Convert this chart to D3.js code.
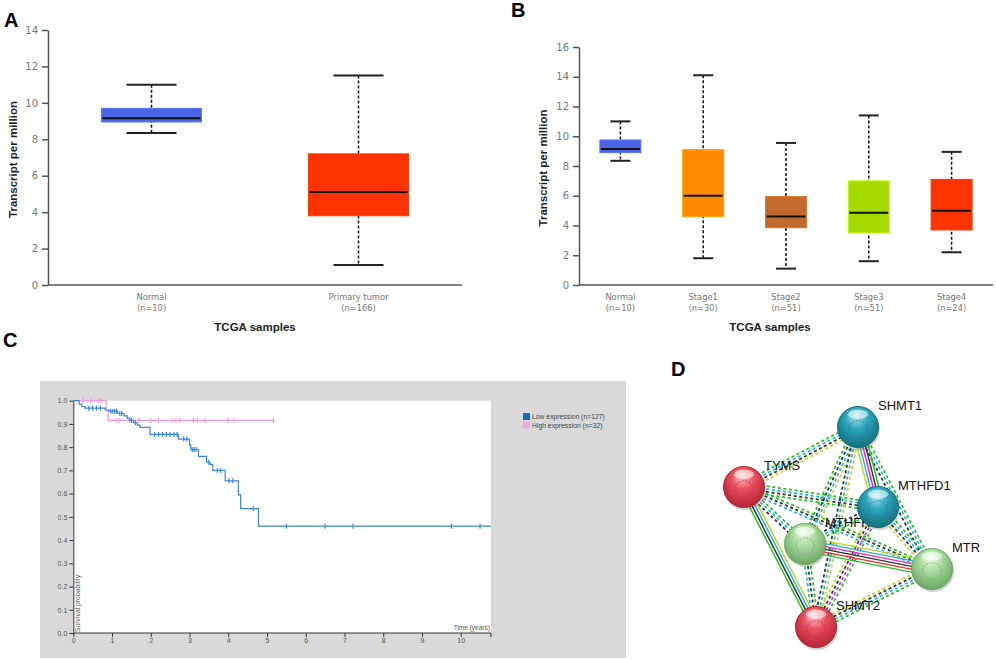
<!DOCTYPE html>
<html>
<head>
<meta charset="utf-8">
<script src="https://cdn.jsdelivr.net/npm/d3@7"></script>
<style>
  body { margin: 0; background: #fff; }
  svg { display: block; }
</style>
</head>
<body>
<div id="fig"></div>
<script>
// ---- panel A: tumour vs normal
const aCats = ["Normal", "Primary tumor"];
const aN = ["(n=10)", "(n=166)"];
const aMin = [8.35, 1.1];
const aQ1 = [8.95, 3.8];
const aMed = [9.15, 5.1];
const aQ3 = [9.7, 7.2];
const aMax = [11.0, 11.5];
const aTicks = [0, 2, 4, 6, 8, 10, 12, 14];

// ---- panel B: by stage
const bCats = ["Normal", "Stage1", "Stage2", "Stage3", "Stage4"];
const bN = ["(n=10)", "(n=30)", "(n=51)", "(n=51)", "(n=24)"];
const bMin = [8.35, 1.8, 1.1, 1.6, 2.2];
const bQ1 = [8.9, 4.6, 3.85, 3.5, 3.7];
const bMed = [9.15, 6.0, 4.6, 4.85, 5.0];
const bQ3 = [9.75, 9.1, 5.95, 7.0, 7.1];
const bMax = [11.0, 14.1, 9.55, 11.4, 8.95];
const bTicks = [0, 2, 4, 6, 8, 10, 12, 14, 16];

// ---- panel C: Kaplan-Meier
const kmGroups = ["Low expression (n=127)", "High expression (n=32)"];
const lowSteps = [[0, 1], [0.15, 0.985], [0.22, 0.975], [0.3, 0.968], [0.82, 0.96], [0.92, 0.955],
  [1.14, 0.945], [1.31, 0.935], [1.39, 0.925], [1.46, 0.915], [1.55, 0.905], [1.65, 0.895],
  [1.72, 0.885], [1.98, 0.855], [2.71, 0.835], [3.0, 0.81], [3.03, 0.79], [3.23, 0.76],
  [3.44, 0.735], [3.53, 0.725], [3.6, 0.70], [3.92, 0.655], [4.26, 0.595], [4.32, 0.535],
  [4.78, 0.46], [10.78, 0.46]];
const lowCensor = [0.4, 0.5, 0.6, 0.7, 0.97, 1.02, 1.07, 1.12, 1.2, 1.25, 1.5, 1.6, 2.1, 2.2, 2.3,
  2.4, 2.5, 2.6, 2.68, 2.85, 2.93, 3.07, 3.12, 3.17, 3.5, 3.72, 3.8, 4.02, 4.12, 4.65, 5.5, 6.5,
  7.22, 9.76, 10.5];
const highSteps = [[0, 1], [0.85, 0.957], [0.9, 0.915], [5.17, 0.915]];
const highCensor = [0.25, 0.45, 0.65, 0.72, 1.1, 1.18, 1.45, 1.7, 2.0, 2.2, 2.55, 2.65, 2.75,
  3.1, 3.2, 3.4, 4.0, 4.15, 5.17];
const kmXTicks = [0, 1, 2, 3, 4, 5, 6, 7, 8, 9, 10];
const kmYTicks = [0, 0.1, 0.2, 0.3, 0.4, 0.5, 0.6, 0.7, 0.8, 0.9, 1.0];

// ---- panel D: STRING network
const genes = ["SHMT1", "TYMS", "MTHFD1", "MTHFR", "MTR", "SHMT2"];
const geneKind = ["teal", "red", "teal", "green", "green", "red"];
const solidEdges = [
  ["TYMS", "SHMT2", ["textmining", "database", "coexpression", "neighborhood"]],
  ["SHMT1", "MTHFD1", ["neighborhood", "coexpression", "experiment", "database", "textmining"]],
  ["MTHFR", "MTR", ["textmining", "database", "experiment", "coexpression", "fusion", "neighborhood"]]
];
const dashedEdges = [
  ["TYMS", "SHMT1", ["neighborhood", "database", "coexpression", "textmining"]],
  ["TYMS", "MTHFD1", ["neighborhood", "database", "coexpression", "neighborhood"]],
  ["TYMS", "MTHFR", ["neighborhood", "database", "coexpression"]],
  ["TYMS", "MTR", ["neighborhood", "coexpression", "database"]],
  ["SHMT1", "MTHFR", ["textmining", "database", "coexpression", "neighborhood"]],
  ["SHMT1", "MTR", ["neighborhood", "database", "coexpression"]],
  ["SHMT1", "SHMT2", ["textmining", "database", "coexpression"]],
  ["MTHFD1", "MTHFR", ["neighborhood", "database", "coexpression"]],
  ["MTHFD1", "MTR", ["neighborhood", "database", "coexpression", "textmining"]],
  ["MTHFD1", "SHMT2", ["neighborhood", "experiment", "coexpression", "textmining"]],
  ["MTHFR", "SHMT2", ["neighborhood", "coexpression", "database"]],
  ["MTR", "SHMT2", ["neighborhood", "database", "coexpression", "textmining"]]
];

const W = 996, H = 660;
const svg = d3.select("#fig").append("svg").attr("width", W).attr("height", H);

const tickFont = "'DejaVu Sans', Verdana, sans-serif";
const boldFont = "'Liberation Sans', Arial, sans-serif";

function panelLetter(txt, x, y) {
  svg.append("text").attr("x", x).attr("y", y).text(txt)
    .attr("font-family", boldFont).attr("font-weight", "bold").attr("font-size", 20);
}

function boxPanel(opt) {
  const g = svg.append("g");
  const x = d3.scalePoint().domain(opt.cats).range(opt.xr).padding(0.5);
  const y = d3.scaleLinear().domain(opt.ydom).range(opt.yr);

  // axes
  const yAxis = g.append("g").attr("transform", `translate(${opt.xr[0]},0)`)
    .call(d3.axisLeft(y).tickValues(opt.ticks).tickSize(6).tickPadding(4).tickSizeOuter(0));
  yAxis.select(".domain").attr("stroke", "#555").attr("stroke-width", 1.5);
  yAxis.selectAll(".tick line").attr("stroke", "#555").attr("stroke-width", 1.5);
  yAxis.selectAll("text").attr("fill", "#777").attr("font-size", 10).attr("font-family", tickFont);

  g.append("line").attr("x1", opt.xr[0]).attr("x2", opt.xr[1])
    .attr("y1", y(0)).attr("y2", y(0)).attr("stroke", "#555").attr("stroke-width", 1.5);

  const cat = g.selectAll(".cat").data(opt.cats).join("g").attr("class", "cat");
  cat.append("text").attr("x", d => x(d)).attr("y", y(0) + 15).attr("text-anchor", "middle")
    .attr("font-family", tickFont).attr("font-size", 8.3).attr("fill", "#777").text(d => d);
  cat.append("text").attr("x", d => x(d)).attr("y", y(0) + 26).attr("text-anchor", "middle")
    .attr("font-family", tickFont).attr("font-size", 8.3).attr("fill", "#777")
    .text((d, i) => opt.n[i]);

  // whiskers
  cat.append("line").attr("x1", d => x(d)).attr("x2", d => x(d))
    .attr("y1", (d, i) => y(opt.max[i])).attr("y2", (d, i) => y(opt.min[i]))
    .attr("stroke", "#111").attr("stroke-width", 1.5).attr("stroke-dasharray", "3,2");
  ["max", "min"].forEach(k => {
    cat.append("line").attr("x1", d => x(d) - opt.capW / 2).attr("x2", d => x(d) + opt.capW / 2)
      .attr("y1", (d, i) => y(opt[k][i])).attr("y2", (d, i) => y(opt[k][i]))
      .attr("stroke", "#222").attr("stroke-width", 2);
  });
  // boxes
  cat.append("rect").attr("x", d => x(d) - opt.boxW / 2).attr("width", opt.boxW)
    .attr("y", (d, i) => y(opt.q3[i])).attr("height", (d, i) => y(opt.q1[i]) - y(opt.q3[i]))
    .attr("fill", (d, i) => opt.colors[i]).attr("stroke", (d, i) => d3.color(opt.colors[i]).brighter(0.4))
    .attr("stroke-width", 1);
  cat.append("line").attr("x1", d => x(d) - opt.boxW / 2 + 1).attr("x2", d => x(d) + opt.boxW / 2 - 1)
    .attr("y1", (d, i) => y(opt.med[i])).attr("y2", (d, i) => y(opt.med[i]))
    .attr("stroke", "#111").attr("stroke-width", 2);

  // titles
  g.append("text").attr("transform", `translate(${opt.ylabX},${(opt.yr[0] + opt.yr[1]) / 2 + 2}) rotate(-90)`)
    .attr("text-anchor", "middle").attr("font-family", boldFont).attr("font-weight", "bold")
    .attr("font-size", 11.5).attr("fill", "#222").text("Transcript per million");
  g.append("text").attr("x", opt.xlabX).attr("y", opt.xlabY).attr("text-anchor", "middle")
    .attr("font-family", boldFont).attr("font-weight", "bold").attr("font-size", 11.5)
    .attr("fill", "#222").text("TCGA samples");
}

boxPanel({
  cats: aCats, n: aN, min: aMin, q1: aQ1, med: aMed, q3: aQ3, max: aMax,
  colors: ["#4a64e4", "#ff3300"], ticks: aTicks, ydom: [0, 14],
  xr: [48, 462], yr: [285, 30], boxW: 100, capW: 50, ylabX: 17, xlabX: 255, xlabY: 331
});
boxPanel({
  cats: bCats, n: bN, min: bMin, q1: bQ1, med: bMed, q3: bQ3, max: bMax,
  colors: ["#4a64e4", "#ff8c00", "#c26a2e", "#a6d900", "#ff3300"], ticks: bTicks, ydom: [0, 16],
  xr: [579, 993], yr: [285, 47], boxW: 41, capW: 20, ylabX: 547, xlabX: 770, xlabY: 331
});

panelLetter("A", 4, 27);
panelLetter("B", 511, 17);
panelLetter("C", 3, 347);
panelLetter("D", 671, 376);

// ---- Kaplan-Meier panel
(function () {
  const g = svg.append("g");
  const kmFont = "'Liberation Sans', Arial, sans-serif";
  g.append("rect").attr("x", 40).attr("y", 381).attr("width", 586).attr("height", 277).attr("fill", "#d9d9d9");
  const x = d3.scaleLinear().domain([0, 10]).range([73.3, 460.7]);
  const y = d3.scaleLinear().domain([0, 1]).range([633, 400.7]);
  const xEnd = 10.78;
  g.append("rect").attr("x", x(0)).attr("y", y(1)).attr("width", x(xEnd) - x(0))
    .attr("height", y(0) - y(1)).attr("fill", "#fff");

  const yAx = g.append("g").attr("transform", `translate(${x(0)},0)`)
    .call(d3.axisLeft(y).tickValues(kmYTicks).tickFormat(d3.format(".1f")).tickSize(4).tickPadding(2).tickSizeOuter(0));
  const xAx = g.append("g").attr("transform", `translate(0,${y(0)})`)
    .call(d3.axisBottom(x).tickValues(kmXTicks).tickSize(4).tickPadding(1).tickSizeOuter(0));
  [yAx, xAx].forEach(a => {
    a.select(".domain").attr("stroke", "#333");
    a.selectAll(".tick line").attr("stroke", "#333");
    a.selectAll("text").attr("font-family", kmFont).attr("font-size", 7).attr("fill", "#555");
  });
  xAx.select(".domain").attr("d", `M${x(0)},0H${x(xEnd)}V4`);

  g.append("text").attr("x", x(xEnd) - 1).attr("y", y(0) - 3).attr("text-anchor", "end")
    .attr("font-family", kmFont).attr("font-size", 6.5).attr("fill", "#555").text("Time (years)");
  g.append("text").attr("transform", `translate(${x(0) + 7},${y(0) - 1}) rotate(-90)`)
    .attr("font-family", kmFont).attr("font-size", 6.8).attr("fill", "#555").text("Survival probability");

  const line = d3.line().x(d => x(d[0])).y(d => y(d[1])).curve(d3.curveStepAfter);
  const survAt = (steps, t) => steps[Math.max(0, d3.bisector(d => d[0]).right(steps, t) - 1)][1];

  [[highSteps, highCensor, "#f29ad8"], [lowSteps, lowCensor, "#3a87d6"]].forEach(([steps, cens, col]) => {
    g.append("path").attr("d", line(steps)).attr("fill", "none").attr("stroke", col).attr("stroke-width", 1.2);
    g.selectAll(null).data(cens).join("line")
      .attr("x1", t => x(t)).attr("x2", t => x(t))
      .attr("y1", t => y(survAt(steps, t)) - 2.5).attr("y2", t => y(survAt(steps, t)) + 2.5)
      .attr("stroke", col).attr("stroke-width", 1.2);
  });

  const leg = g.selectAll(".leg").data(kmGroups).join("g")
    .attr("transform", (d, i) => `translate(523,${413 + i * 8.5})`);
  leg.append("rect").attr("width", 7).attr("height", 7)
    .attr("fill", (d, i) => ["#0d6fc4", "#f5a6de"][i]);
  leg.append("text").attr("x", 9).attr("y", 6).attr("font-family", kmFont).attr("font-size", 6.8)
    .attr("fill", "#444").text(d => d);
})();

// ---- STRING network panel
(function () {
  const g = svg.append("g");
  const layout = {
    SHMT1: [858, 427], TYMS: [744, 487], MTHFD1: [878, 507],
    MTHFR: [805, 544], MTR: [932, 569], SHMT2: [816, 627]
  };
  const chan = {
    neighborhood: "#22c422", fusion: "#f02a2a", database: "#1fb4e6",
    experiment: "#e626dc", textmining: "#bdd91f", coexpression: "#333"
  };
  const R = 20.5;
  const gap = 2.8;

  function drawEdge([a, b, chs], dashed) {
    const [x1, y1] = layout[a], [x2, y2] = layout[b];
    const len = Math.hypot(x2 - x1, y2 - y1);
    const nx = -(y2 - y1) / len, ny = (x2 - x1) / len;
    chs.forEach((c, i) => {
      const off = (i - (chs.length - 1) / 2) * gap;
      g.append("line")
        .attr("x1", x1 + nx * off).attr("y1", y1 + ny * off)
        .attr("x2", x2 + nx * off).attr("y2", y2 + ny * off)
        .attr("stroke", chan[c]).attr("stroke-width", dashed ? 1.8 : 1.5)
        .attr("stroke-dasharray", dashed ? "3,2.6" : null);
    });
  }
  dashedEdges.forEach(e => drawEdge(e, true));
  solidEdges.forEach(e => drawEdge(e, false));

  const defs = svg.append("defs");
  const kinds = {
    red: ["#ffd0d4", "#e8505d", "#b52434"],
    teal: ["#b8ecf4", "#2aa6bb", "#16707f"],
    green: ["#f0fbec", "#a8dc9e", "#6aa862"]
  };
  Object.entries(kinds).forEach(([k, c]) => {
    const gr = defs.append("radialGradient").attr("id", "sph-" + k)
      .attr("cx", "50%").attr("cy", "40%").attr("r", "60%").attr("fx", "45%").attr("fy", "20%");
    gr.append("stop").attr("offset", "0%").attr("stop-color", c[0]);
    gr.append("stop").attr("offset", "45%").attr("stop-color", c[1]);
    gr.append("stop").attr("offset", "100%").attr("stop-color", c[2]);
  });

  const order = ["TYMS", "SHMT2", "MTHFR", "MTR", "SHMT1", "MTHFD1"];
  order.forEach(name => {
    const [cx, cy] = layout[name];
    const kind = geneKind[genes.indexOf(name)];
    g.append("circle").attr("cx", cx + 1).attr("cy", cy + 2).attr("r", R + 0.5)
      .attr("fill", "#000").attr("opacity", 0.18);
    g.append("circle").attr("cx", cx).attr("cy", cy).attr("r", R)
      .attr("fill", `url(#sph-${kind})`).attr("stroke", kinds[kind][2]).attr("stroke-width", 1);
    // faint protein structure blob
    g.append("ellipse").attr("cx", cx).attr("cy", cy + 2).attr("rx", R * 0.45).attr("ry", R * 0.4)
      .attr("fill", "none").attr("stroke", kind === "green" ? "#8a9a88" : (kind === "red" ? "#c0206a" : "#4a60b0"))
      .attr("stroke-width", 1.2).attr("stroke-dasharray", "2,1.5").attr("opacity", 0.6);
    g.append("ellipse").attr("cx", cx).attr("cy", cy - R * 0.62).attr("rx", R * 0.5).attr("ry", R * 0.22)
      .attr("fill", "#fff").attr("opacity", 0.55);
    g.append("text").attr("x", cx + 20).attr("y", cy - 17)
      .attr("font-family", boldFont).attr("font-size", 13).attr("fill", "#111").text(name);
  });
})();
</script>
</body>
</html>
